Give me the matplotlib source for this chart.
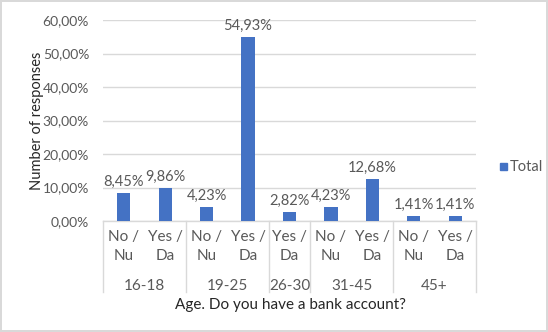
import numpy as np
import matplotlib
matplotlib.use('Agg')
from matplotlib import pyplot as plt
from matplotlib import transforms

groups = ['16-18', '19-25', '26-30', '31-45', '45+']
answers = [['No /\nNu', 'Yes /\nDa'], ['No /\nNu', 'Yes /\nDa'], ['Yes /\nDa'],
           ['No /\nNu', 'Yes /\nDa'], ['No /\nNu', 'Yes /\nDa']]
values = [8.45, 9.86, 4.23, 54.93, 2.82, 4.23, 12.68, 1.41, 1.41]

barColor = '#4472C4'
textColor = '#595959'
lineColor = '#D9D9D9'

plt.rcParams['font.family'] = ['Lato', 'DejaVu Sans']
plt.rcParams['font.size'] = 10

fig = plt.figure(figsize=(5.48, 3.32), dpi=100)
fig.patch.set_edgecolor('#D9D9D9')
fig.patch.set_linewidth(1.5)
ax = fig.add_axes([103/548, 1-221/332, 373/548, 201/332])

x = np.arange(len(values))
ax.bar(x, values, width=0.32, color=barColor, zorder=3)
for xi, v in zip(x, values):
	ax.text(xi, v + 1.2, ('%.2f%%' % v).replace('.', ','), ha='center', va='bottom',
		color=textColor, fontsize=10.5)

ax.set_xlim(-0.5, len(values) - 0.5)
ax.set_ylim(0, 60)
ax.set_yticks(np.arange(0, 61, 10))
ax.set_yticklabels([('%.2f%%' % t).replace('.', ',') for t in np.arange(0, 61, 10)])
ax.yaxis.grid(True, color=lineColor, linewidth=1)
ax.set_axisbelow(True)
ax.tick_params(axis='y', length=0, colors=textColor, pad=10, labelsize=10)
ax.set_xticks([])
for s in ['top', 'right', 'left']:
	ax.spines[s].set_visible(False)
ax.spines['bottom'].set_color(lineColor)
ax.spines['bottom'].set_linewidth(1)

# category labels and group separators below the axis
trans = transforms.blended_transform_factory(ax.transData, ax.transAxes)
pos = 0
ax.plot([-0.5, -0.5], [0, -0.355], color=lineColor, lw=1, transform=trans, clip_on=False)
for g, labels in zip(groups, answers):
	for lab in labels:
		ax.text(pos, -0.045, lab, ha='center', va='top', color=textColor, fontsize=11,
			linespacing=1.45, transform=trans)
		pos += 1
	ax.text(pos - len(labels) / 2 - 0.5, -0.29, g, ha='center', va='top', color=textColor,
		fontsize=11, transform=trans)
	ax.plot([pos - 0.5, pos - 0.5], [0, -0.355], color=lineColor, lw=1, transform=trans,
		clip_on=False)

fig.text(290/548, 1-305/332, 'Age. Do you have a bank account?', ha='center', va='center',
	color='#262626', fontsize=11)
fig.text(37/548, 1-121/332, 'Number of responses', ha='center', va='center', rotation=90,
	color='#262626', fontsize=10.5)

# legend
fig.patches.append(plt.Rectangle((500/548, 1-170/332), 7/548, 7/332, color=barColor,
	transform=fig.transFigure, figure=fig))
fig.text(510/548, 1-167/332, 'Total', ha='left', va='center', color=textColor, fontsize=10.5)

plt.savefig('out.png')
